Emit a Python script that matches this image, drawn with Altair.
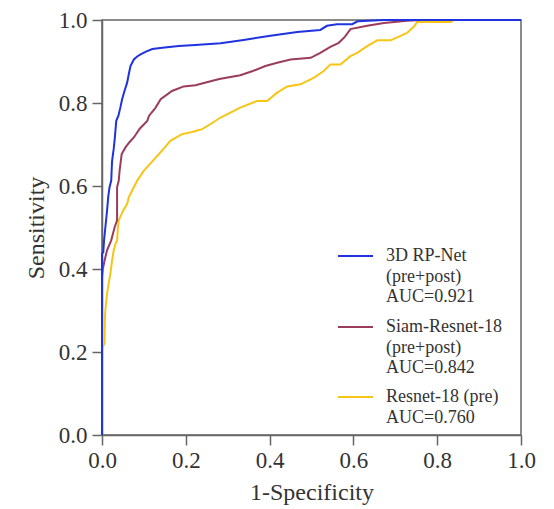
import altair as alt
import pandas as pd

models = ["3D RP-Net", "Siam-Resnet-18", "Resnet-18"]
legend_lines = [
    ["3D RP-Net", "(pre+post)", "AUC=0.921"],
    ["Siam-Resnet-18", "(pre+post)", "AUC=0.842"],
    ["Resnet-18 (pre)", "AUC=0.760"],
]
colors = ["#1f33e0", "#9b3c5c", "#f7c516"]

rp_fpr = [0, 0, 0.003, 0.005, 0.008, 0.012, 0.015, 0.018, 0.022, 0.024, 0.028, 0.031, 0.034,
          0.039, 0.044, 0.048, 0.054, 0.060, 0.064, 0.068, 0.076, 0.084, 0.092, 0.105, 0.12,
          0.144, 0.183, 0.223, 0.283, 0.338, 0.402, 0.466, 0.521, 0.537, 0.561, 0.597, 0.61,
          0.673, 1.0]
rp_tpr = [0, 0.437, 0.44, 0.47, 0.50, 0.54, 0.575, 0.597, 0.613, 0.66, 0.69, 0.72, 0.757,
          0.769, 0.79, 0.809, 0.83, 0.849, 0.87, 0.889, 0.905, 0.912, 0.917, 0.924, 0.930,
          0.933, 0.9375, 0.940, 0.944, 0.952, 0.962, 0.971, 0.976, 0.986, 0.99, 0.99, 0.997,
          1.0, 1.0]

siam_fpr = [0, 0, 0.002, 0.006, 0.012, 0.022, 0.03, 0.036, 0.036, 0.04, 0.042, 0.047, 0.056,
            0.066, 0.076, 0.09, 0.108, 0.112, 0.128, 0.14, 0.167, 0.195, 0.223, 0.25, 0.28,
            0.33, 0.36, 0.39, 0.418, 0.45, 0.498, 0.521, 0.545, 0.565, 0.58, 0.593, 0.633,
            0.673, 0.728, 0.76, 1.0]
siam_tpr = [0, 0.38, 0.40, 0.42, 0.445, 0.469, 0.50, 0.517, 0.597, 0.613, 0.637, 0.677, 0.693,
            0.706, 0.717, 0.738, 0.757, 0.769, 0.789, 0.809, 0.829, 0.840, 0.843, 0.850, 0.858,
            0.867, 0.877, 0.889, 0.897, 0.905, 0.909, 0.921, 0.935, 0.945, 0.96, 0.978, 0.986,
            0.993, 0.998, 1.0, 1.0]

res_fpr = [0, 0, 0.006, 0.007, 0.008, 0.012, 0.015, 0.02, 0.024, 0.028, 0.032, 0.036, 0.038,
           0.04, 0.05, 0.06, 0.064, 0.072, 0.084, 0.092, 0.1, 0.118, 0.136, 0.15, 0.163, 0.191,
           0.215, 0.239, 0.26, 0.283, 0.33, 0.37, 0.394, 0.418, 0.442, 0.474, 0.506, 0.529,
           0.545, 0.569, 0.593, 0.609, 0.633, 0.657, 0.689, 0.728, 0.745, 0.752, 0.832, 0.84,
           1.0]
res_tpr = [0, 0.21, 0.22, 0.284, 0.30, 0.34, 0.36, 0.389, 0.42, 0.445, 0.46, 0.469, 0.50,
           0.517, 0.54, 0.557, 0.573, 0.589, 0.613, 0.625, 0.637, 0.657, 0.677, 0.693, 0.709,
           0.725, 0.73, 0.737, 0.75, 0.765, 0.789, 0.805, 0.805, 0.825, 0.84, 0.845, 0.861,
           0.877, 0.893, 0.893, 0.913, 0.921, 0.937, 0.951, 0.951, 0.969, 0.985, 0.995, 0.995,
           1.0, 1.0]

series = [(models[0], rp_fpr, rp_tpr), (models[1], siam_fpr, siam_tpr), (models[2], res_fpr, res_tpr)]
frames = []
for name, fx, fy in series:
    frames.append(pd.DataFrame({"model": name, "fpr": fx, "tpr": fy, "idx": range(len(fx))}))
df = pd.concat(frames, ignore_index=True)

FONT = "Liberation Serif"
color_scale = alt.Scale(domain=models, range=colors)

x_enc = alt.X("fpr:Q", title="1-Specificity",
              scale=alt.Scale(domain=[0, 1], nice=False),
              axis=alt.Axis(values=[0, 0.2, 0.4, 0.6, 0.8, 1.0], format=".1f",
                            labelFlush=False, labelOverlap=False, labelPadding=4,
                            titlePadding=8))
y_enc = alt.Y("tpr:Q", title="Sensitivity",
              scale=alt.Scale(domain=[0, 1], nice=False),
              axis=alt.Axis(values=[0, 0.2, 0.4, 0.6, 0.8, 1.0], format=".1f",
                            labelFlush=False, labelOverlap=False, labelPadding=5,
                            titlePadding=10))

layers = []
for name in reversed(models):
    layers.append(
        alt.Chart(df).transform_filter(alt.datum.model == name)
        .mark_line(strokeWidth=2, interpolate="linear")
        .encode(x=x_enc, y=y_enc, order="idx:Q",
                color=alt.Color("model:N", scale=color_scale, legend=None))
    )

# manual legend (pixel positions inside the plot area)
sym_y = [236, 307, 377]
for i, name in enumerate(models):
    ldf = pd.DataFrame({"model": [name]})
    layers.append(
        alt.Chart(ldf).mark_rule(strokeWidth=2).encode(
            x=alt.value(236), x2=alt.value(271), y=alt.value(sym_y[i]),
            color=alt.Color("model:N", scale=color_scale, legend=None))
    )
    layers.append(
        alt.Chart(ldf).mark_text(align="left", baseline="middle", font=FONT, fontSize=18,
                                 lineHeight=20.6, color="#333333").encode(
            x=alt.value(284), y=alt.value(sym_y[i]),
            text=alt.value(legend_lines[i]))
    )

chart = alt.layer(*layers).properties(
    width=419, height=415,
    autosize=alt.AutoSizeParams(type="none"),
    padding={"left": 94, "top": 12, "right": 25, "bottom": 72},
).configure_axis(
    grid=False, domainColor="#666666", domainWidth=1.5, tickColor="#666666", tickWidth=1.5,
    tickSize=10, labelFont=FONT, labelFontSize=23, labelColor="#333333",
    titleFont=FONT, titleFontSize=24, titleFontWeight="normal", titleColor="#333333",
).configure_view(stroke="#666666", strokeWidth=1.5)

chart.save("out.html", embed_options={"renderer": "svg", "actions": False})
